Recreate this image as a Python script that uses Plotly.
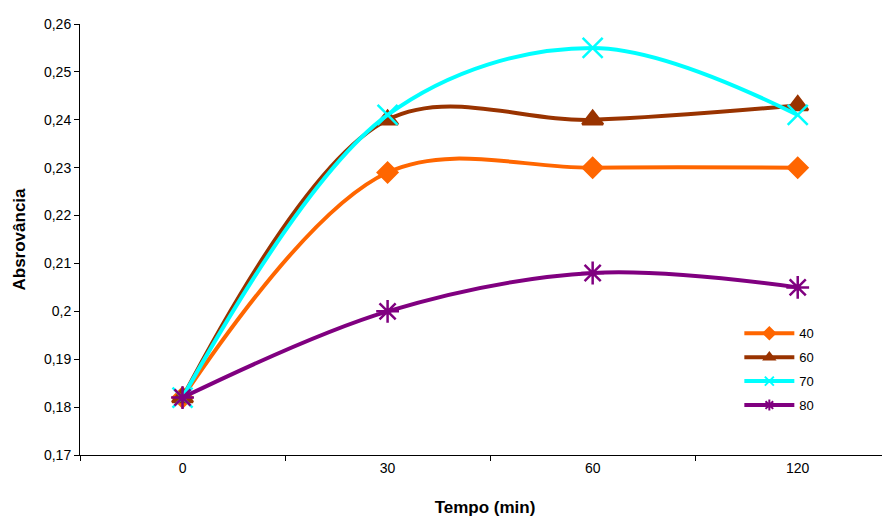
import plotly.graph_objects as go

categories = ["0", "30", "60", "120"]
series_names = ["40", "60", "70", "80"]
s40 = [0.182, 0.229, 0.230, 0.230]
s60 = [0.182, 0.240, 0.240, 0.243]
s70 = [0.182, 0.241, 0.255, 0.241]
s80 = [0.182, 0.200, 0.208, 0.205]
y_tickvals = [0.17, 0.18, 0.19, 0.20, 0.21, 0.22, 0.23, 0.24, 0.25, 0.26]
y_ticktext = ["0,17", "0,18", "0,19", "0,2", "0,21", "0,22", "0,23", "0,24", "0,25", "0,26"]

styles = [
    dict(color="#FF6600", symbol="diamond", size=15),
    dict(color="#993300", symbol="triangle-up", size=18),
    dict(color="#00FFFF", symbol="x-thin-open", size=20),
    dict(color="#800080", symbol="asterisk-open", size=19),
]

fig = go.Figure()
for name, vals, st in zip(series_names, [s40, s60, s70, s80], styles):
    fig.add_trace(go.Scatter(
        x=categories, y=vals, name=name, mode="lines+markers",
        legendgroup=name, showlegend=False,
        line=dict(color=st["color"], width=4, shape="spline", smoothing=1),
        marker=dict(symbol=st["symbol"], size=st["size"], color=st["color"],
                    line=dict(color=st["color"], width=2.5)),
    ))
# legend entries with smaller markers (as in the original legend)
for name, st in zip(series_names, styles):
    fig.add_trace(go.Scatter(
        x=[None], y=[None], name=name, mode="lines+markers",
        legendgroup=name, showlegend=True,
        line=dict(color=st["color"], width=4),
        marker=dict(symbol=st["symbol"], size=9, color=st["color"],
                    line=dict(color=st["color"], width=2)),
    ))

fig.update_layout(
    width=882, height=510,
    margin=dict(l=72, r=0, t=16, b=63),
    paper_bgcolor="white", plot_bgcolor="white",
    font=dict(family="Arial, Liberation Sans, sans-serif", size=14, color="black"),
    separators=",.",
    showlegend=True,
    legend=dict(x=0.814, y=0.317, xanchor="left", yanchor="top",
                bgcolor="rgba(0,0,0,0)", font=dict(size=13),
                itemwidth=50, tracegroupgap=4),
    xaxis=dict(
        type="category", range=[-0.5, 3.45],
        showline=True, linecolor="black", linewidth=1,
        ticks="outside", tickson="boundaries", ticklen=5, tickcolor="black",
        showgrid=False, zeroline=False,
        title=dict(text="<b>Tempo (min)</b>", font=dict(size=17), standoff=26),
    ),
    yaxis=dict(
        range=[0.17, 0.26], tickvals=y_tickvals, ticktext=y_ticktext,
        showline=True, linecolor="black", linewidth=1,
        ticks="outside", ticklen=5, tickcolor="black",
        showgrid=False, zeroline=False,
        title=dict(text="<b>Absrovância</b>", font=dict(size=17), standoff=14),
    ),
)

fig.write_html("out.html")
